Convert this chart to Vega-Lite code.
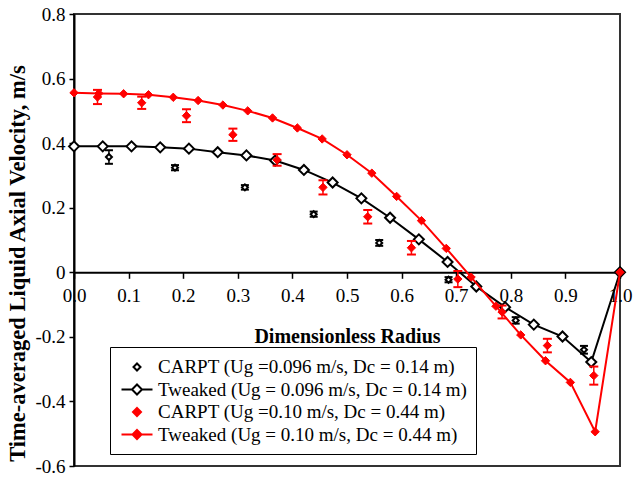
{
  "$schema": "https://vega.github.io/schema/vega-lite/v6.json",
  "width": 546,
  "height": 452,
  "autosize": {"type": "none"},
  "padding": {"left": 74, "top": 14, "right": 14, "bottom": 11},
  "background": "white",
  "config": {
    "view": {"stroke": "#333333", "strokeWidth": 2},
    "axis": {
      "labelFont": "Liberation Serif",
      "labelFontSize": 19,
      "labelColor": "black",
      "titleFont": "Liberation Serif",
      "titleFontWeight": "bold",
      "titleColor": "black",
      "domainColor": "black",
      "domainWidth": 2,
      "tickColor": "black",
      "tickWidth": 1.5,
      "grid": false
    },
    "legend": {
      "labelFont": "Liberation Serif",
      "labelFontSize": 19,
      "labelColor": "black",
      "labelLimit": 500,
      "symbolSize": 400,
      "symbolStrokeWidth": 2,
      "symbolOpacity": 1
    }
  },
  "datasets": {
    "tweaked": [
      {"s": "Tweaked (Ug = 0.096 m/s, Dc = 0.14 m)", "r": 0.0, "v": 0.390},
      {"s": "Tweaked (Ug = 0.096 m/s, Dc = 0.14 m)", "r": 0.0526, "v": 0.390},
      {"s": "Tweaked (Ug = 0.096 m/s, Dc = 0.14 m)", "r": 0.1053, "v": 0.390},
      {"s": "Tweaked (Ug = 0.096 m/s, Dc = 0.14 m)", "r": 0.1579, "v": 0.387},
      {"s": "Tweaked (Ug = 0.096 m/s, Dc = 0.14 m)", "r": 0.2105, "v": 0.383},
      {"s": "Tweaked (Ug = 0.096 m/s, Dc = 0.14 m)", "r": 0.2632, "v": 0.372},
      {"s": "Tweaked (Ug = 0.096 m/s, Dc = 0.14 m)", "r": 0.3158, "v": 0.362},
      {"s": "Tweaked (Ug = 0.096 m/s, Dc = 0.14 m)", "r": 0.3684, "v": 0.346},
      {"s": "Tweaked (Ug = 0.096 m/s, Dc = 0.14 m)", "r": 0.4211, "v": 0.317},
      {"s": "Tweaked (Ug = 0.096 m/s, Dc = 0.14 m)", "r": 0.4737, "v": 0.278},
      {"s": "Tweaked (Ug = 0.096 m/s, Dc = 0.14 m)", "r": 0.5263, "v": 0.229},
      {"s": "Tweaked (Ug = 0.096 m/s, Dc = 0.14 m)", "r": 0.5789, "v": 0.169},
      {"s": "Tweaked (Ug = 0.096 m/s, Dc = 0.14 m)", "r": 0.6316, "v": 0.102},
      {"s": "Tweaked (Ug = 0.096 m/s, Dc = 0.14 m)", "r": 0.6842, "v": 0.032},
      {"s": "Tweaked (Ug = 0.096 m/s, Dc = 0.14 m)", "r": 0.7368, "v": -0.044},
      {"s": "Tweaked (Ug = 0.096 m/s, Dc = 0.14 m)", "r": 0.7895, "v": -0.108},
      {"s": "Tweaked (Ug = 0.096 m/s, Dc = 0.14 m)", "r": 0.8421, "v": -0.162},
      {"s": "Tweaked (Ug = 0.096 m/s, Dc = 0.14 m)", "r": 0.8947, "v": -0.199},
      {"s": "Tweaked (Ug = 0.096 m/s, Dc = 0.14 m)", "r": 0.9474, "v": -0.278},
      {"s": "Tweaked (Ug = 0.096 m/s, Dc = 0.14 m)", "r": 1.0, "v": 0.0},
      {"s": "Tweaked (Ug = 0.10 m/s, Dc = 0.44 m)", "r": 0.0, "v": 0.556},
      {"s": "Tweaked (Ug = 0.10 m/s, Dc = 0.44 m)", "r": 0.0455, "v": 0.554},
      {"s": "Tweaked (Ug = 0.10 m/s, Dc = 0.44 m)", "r": 0.0909, "v": 0.553},
      {"s": "Tweaked (Ug = 0.10 m/s, Dc = 0.44 m)", "r": 0.1364, "v": 0.550},
      {"s": "Tweaked (Ug = 0.10 m/s, Dc = 0.44 m)", "r": 0.1818, "v": 0.542},
      {"s": "Tweaked (Ug = 0.10 m/s, Dc = 0.44 m)", "r": 0.2273, "v": 0.532},
      {"s": "Tweaked (Ug = 0.10 m/s, Dc = 0.44 m)", "r": 0.2727, "v": 0.518},
      {"s": "Tweaked (Ug = 0.10 m/s, Dc = 0.44 m)", "r": 0.3182, "v": 0.500},
      {"s": "Tweaked (Ug = 0.10 m/s, Dc = 0.44 m)", "r": 0.3636, "v": 0.478},
      {"s": "Tweaked (Ug = 0.10 m/s, Dc = 0.44 m)", "r": 0.4091, "v": 0.447},
      {"s": "Tweaked (Ug = 0.10 m/s, Dc = 0.44 m)", "r": 0.4545, "v": 0.413},
      {"s": "Tweaked (Ug = 0.10 m/s, Dc = 0.44 m)", "r": 0.5, "v": 0.364},
      {"s": "Tweaked (Ug = 0.10 m/s, Dc = 0.44 m)", "r": 0.5455, "v": 0.307},
      {"s": "Tweaked (Ug = 0.10 m/s, Dc = 0.44 m)", "r": 0.5909, "v": 0.235},
      {"s": "Tweaked (Ug = 0.10 m/s, Dc = 0.44 m)", "r": 0.6364, "v": 0.160},
      {"s": "Tweaked (Ug = 0.10 m/s, Dc = 0.44 m)", "r": 0.6818, "v": 0.074},
      {"s": "Tweaked (Ug = 0.10 m/s, Dc = 0.44 m)", "r": 0.7273, "v": -0.015},
      {"s": "Tweaked (Ug = 0.10 m/s, Dc = 0.44 m)", "r": 0.7727, "v": -0.105},
      {"s": "Tweaked (Ug = 0.10 m/s, Dc = 0.44 m)", "r": 0.8182, "v": -0.194},
      {"s": "Tweaked (Ug = 0.10 m/s, Dc = 0.44 m)", "r": 0.8636, "v": -0.274},
      {"s": "Tweaked (Ug = 0.10 m/s, Dc = 0.44 m)", "r": 0.9091, "v": -0.341},
      {"s": "Tweaked (Ug = 0.10 m/s, Dc = 0.44 m)", "r": 0.9545, "v": -0.494},
      {"s": "Tweaked (Ug = 0.10 m/s, Dc = 0.44 m)", "r": 1.0, "v": 0.0}
    ],
    "carpt": [
      {"s": "CARPT (Ug =0.096 m/s, Dc = 0.14 m)", "r": 0.064, "v": 0.357, "lo": 0.336, "hi": 0.378},
      {"s": "CARPT (Ug =0.096 m/s, Dc = 0.14 m)", "r": 0.185, "v": 0.324, "lo": 0.316, "hi": 0.332},
      {"s": "CARPT (Ug =0.096 m/s, Dc = 0.14 m)", "r": 0.313, "v": 0.263, "lo": 0.256, "hi": 0.270},
      {"s": "CARPT (Ug =0.096 m/s, Dc = 0.14 m)", "r": 0.439, "v": 0.180, "lo": 0.172, "hi": 0.188},
      {"s": "CARPT (Ug =0.096 m/s, Dc = 0.14 m)", "r": 0.559, "v": 0.091, "lo": 0.082, "hi": 0.100},
      {"s": "CARPT (Ug =0.096 m/s, Dc = 0.14 m)", "r": 0.686, "v": -0.023, "lo": -0.031, "hi": -0.015},
      {"s": "CARPT (Ug =0.096 m/s, Dc = 0.14 m)", "r": 0.809, "v": -0.149, "lo": -0.159, "hi": -0.139},
      {"s": "CARPT (Ug =0.096 m/s, Dc = 0.14 m)", "r": 0.934, "v": -0.240, "lo": -0.252, "hi": -0.228},
      {"s": "CARPT (Ug =0.10 m/s, Dc = 0.44 m)", "r": 0.043, "v": 0.543, "lo": 0.521, "hi": 0.565},
      {"s": "CARPT (Ug =0.10 m/s, Dc = 0.44 m)", "r": 0.124, "v": 0.525, "lo": 0.506, "hi": 0.544},
      {"s": "CARPT (Ug =0.10 m/s, Dc = 0.44 m)", "r": 0.206, "v": 0.485, "lo": 0.465, "hi": 0.505},
      {"s": "CARPT (Ug =0.10 m/s, Dc = 0.44 m)", "r": 0.291, "v": 0.426, "lo": 0.407, "hi": 0.445},
      {"s": "CARPT (Ug =0.10 m/s, Dc = 0.44 m)", "r": 0.372, "v": 0.348, "lo": 0.330, "hi": 0.366},
      {"s": "CARPT (Ug =0.10 m/s, Dc = 0.44 m)", "r": 0.456, "v": 0.263, "lo": 0.241, "hi": 0.285},
      {"s": "CARPT (Ug =0.10 m/s, Dc = 0.44 m)", "r": 0.538, "v": 0.172, "lo": 0.151, "hi": 0.193},
      {"s": "CARPT (Ug =0.10 m/s, Dc = 0.44 m)", "r": 0.618, "v": 0.076, "lo": 0.055, "hi": 0.097},
      {"s": "CARPT (Ug =0.10 m/s, Dc = 0.44 m)", "r": 0.703, "v": -0.021, "lo": -0.046, "hi": 0.004},
      {"s": "CARPT (Ug =0.10 m/s, Dc = 0.44 m)", "r": 0.784, "v": -0.123, "lo": -0.143, "hi": -0.103},
      {"s": "CARPT (Ug =0.10 m/s, Dc = 0.44 m)", "r": 0.867, "v": -0.227, "lo": -0.248, "hi": -0.206},
      {"s": "CARPT (Ug =0.10 m/s, Dc = 0.44 m)", "r": 0.952, "v": -0.320, "lo": -0.348, "hi": -0.292}
    ]
  },
  "encoding": {
    "x": {
      "field": "r", "type": "quantitative",
      "scale": {"domain": [0, 1], "nice": false, "zero": false},
      "axis": {
        "orient": "bottom",
        "offset": -193.7,
        "values": [0, 0.1, 0.2, 0.3, 0.4, 0.5, 0.6, 0.7, 0.8, 0.9, 1.0],
        "format": ".1f",
        "labelFont": "Liberation Serif",
        "tickSize": 6,
        "labelPadding": 8,
        "labelFlush": false,
        "labelOverlap": false,
        "title": "Dimensionless Radius",
        "titleFontSize": 20,
        "titlePadding": 21
      }
    },
    "y": {
      "field": "v", "type": "quantitative",
      "scale": {"domain": [-0.6, 0.8], "nice": false, "zero": false},
      "axis": {
        "values": [-0.6, -0.4, -0.2, 0, 0.2, 0.4, 0.6, 0.8],
        "labelExpr": "datum.value < -0.0001 ? '-' + format(-datum.value, '.1~f') : format(abs(datum.value), '.1~f')",
        "labelFont": "Liberation Serif",
        "tickSize": 5,
        "labelPadding": 4,
        "labelFlush": false,
        "labelOverlap": false,
        "title": "Time-averaged Liquid Axial Velocity, m/s",
        "titleFontSize": 22.5,
        "titlePadding": 5,
        "titleY": 249
      }
    }
  },
  "layer": [
    {
      "data": {"name": "tweaked"},
      "transform": [{"filter": "datum.s === 'Tweaked (Ug = 0.096 m/s, Dc = 0.14 m)'"}],
      "mark": {"type": "line", "color": "black", "strokeWidth": 2},
      "encoding": {}
    },
    {
      "data": {"name": "tweaked"},
      "transform": [{"filter": "datum.s === 'Tweaked (Ug = 0.096 m/s, Dc = 0.14 m)'"}],
      "mark": {"type": "point", "shape": "diamond", "filled": true, "size": 100, "strokeWidth": 2, "opacity": 1},
      "encoding": {
        "stroke": {
          "field": "s", "type": "nominal",
          "scale": {
            "domain": ["CARPT (Ug =0.096 m/s, Dc = 0.14 m)", "Tweaked (Ug = 0.096 m/s, Dc = 0.14 m)", "CARPT (Ug =0.10 m/s, Dc = 0.44 m)", "Tweaked (Ug = 0.10 m/s, Dc = 0.44 m)"],
            "range": ["black", "black", "red", "red"]
          },
          "legend": {
            "title": null,
            "orient": "none",
            "legendX": 36,
            "legendY": 333,
            "padding": 9,
            "rowPadding": 1.5,
            "fillColor": "white",
            "strokeColor": "black",
            "symbolOffset": 7,
            "labelOffset": 10
          }
        },
        "fill": {
          "field": "s", "type": "nominal",
          "scale": {
            "domain": ["CARPT (Ug =0.096 m/s, Dc = 0.14 m)", "Tweaked (Ug = 0.096 m/s, Dc = 0.14 m)", "CARPT (Ug =0.10 m/s, Dc = 0.44 m)", "Tweaked (Ug = 0.10 m/s, Dc = 0.44 m)"],
            "range": ["white", "white", "red", "red"]
          }
        }
      }
    },
    {
      "data": {"name": "tweaked"},
      "transform": [{"filter": "datum.r > 5"}],
      "mark": {"type": "point", "filled": true, "strokeWidth": 2, "opacity": 1},
      "encoding": {
        "stroke": {"field": "s", "type": "nominal"},
        "fill": {"field": "s", "type": "nominal"},
        "shape": {
          "field": "s", "type": "nominal",
          "scale": {
            "domain": ["CARPT (Ug =0.096 m/s, Dc = 0.14 m)", "Tweaked (Ug = 0.096 m/s, Dc = 0.14 m)", "CARPT (Ug =0.10 m/s, Dc = 0.44 m)", "Tweaked (Ug = 0.10 m/s, Dc = 0.44 m)"],
            "range": [
              "M0,-0.35L0.35,0L0,0.35L-0.35,0Z",
              "M-1.55,0H-0.5M0.5,0H1.55M0,-0.5L0.5,0L0,0.5L-0.5,0Z",
              "M0,-0.4L0.4,0L0,0.4L-0.4,0Z",
              "M-1.55,0H1.55M0,-0.45L0.45,0L0,0.45L-0.45,0Z"
            ]
          }
        }
      }
    },
    {
      "data": {"name": "carpt"},
      "transform": [{"filter": "datum.s === 'CARPT (Ug =0.096 m/s, Dc = 0.14 m)'"}],
      "mark": {"type": "rule", "color": "black", "strokeWidth": 1.5},
      "encoding": {"y": {"field": "lo", "type": "quantitative"}, "y2": {"field": "hi"}}
    },
    {
      "data": {"name": "carpt"},
      "transform": [{"filter": "datum.s === 'CARPT (Ug =0.096 m/s, Dc = 0.14 m)'"}, {"fold": ["lo", "hi"], "as": ["k", "yv"]}],
      "mark": {"type": "tick", "orient": "horizontal", "color": "black", "size": 8, "thickness": 2, "opacity": 1},
      "encoding": {"y": {"field": "yv", "type": "quantitative"}}
    },
    {
      "data": {"name": "carpt"},
      "transform": [{"filter": "datum.s === 'CARPT (Ug =0.096 m/s, Dc = 0.14 m)'"}],
      "mark": {"type": "point", "shape": "diamond", "filled": true, "size": 36, "strokeWidth": 2, "opacity": 1},
      "encoding": {"stroke": {"field": "s", "type": "nominal"}, "fill": {"field": "s", "type": "nominal"}}
    },
    {
      "data": {"name": "carpt"},
      "transform": [{"filter": "datum.s === 'CARPT (Ug =0.10 m/s, Dc = 0.44 m)'"}],
      "mark": {"type": "rule", "color": "red", "strokeWidth": 1.5},
      "encoding": {"y": {"field": "lo", "type": "quantitative"}, "y2": {"field": "hi"}}
    },
    {
      "data": {"name": "carpt"},
      "transform": [{"filter": "datum.s === 'CARPT (Ug =0.10 m/s, Dc = 0.44 m)'"}, {"fold": ["lo", "hi"], "as": ["k", "yv"]}],
      "mark": {"type": "tick", "orient": "horizontal", "color": "red", "size": 9, "thickness": 2, "opacity": 1},
      "encoding": {"y": {"field": "yv", "type": "quantitative"}}
    },
    {
      "data": {"name": "carpt"},
      "transform": [{"filter": "datum.s === 'CARPT (Ug =0.10 m/s, Dc = 0.44 m)'"}],
      "mark": {"type": "point", "shape": "diamond", "filled": true, "size": 70, "strokeWidth": 1, "opacity": 1},
      "encoding": {"stroke": {"field": "s", "type": "nominal"}, "fill": {"field": "s", "type": "nominal"}}
    },
    {
      "data": {"name": "tweaked"},
      "transform": [{"filter": "datum.s === 'Tweaked (Ug = 0.10 m/s, Dc = 0.44 m)'"}],
      "mark": {"type": "line", "color": "red", "strokeWidth": 2},
      "encoding": {}
    },
    {
      "data": {"name": "tweaked"},
      "transform": [{"filter": "datum.s === 'Tweaked (Ug = 0.10 m/s, Dc = 0.44 m)'"}],
      "mark": {"type": "point", "shape": "diamond", "filled": true, "size": 70, "strokeWidth": 1, "opacity": 1},
      "encoding": {"stroke": {"field": "s", "type": "nominal"}, "fill": {"field": "s", "type": "nominal"}}
    }
  ]
}
